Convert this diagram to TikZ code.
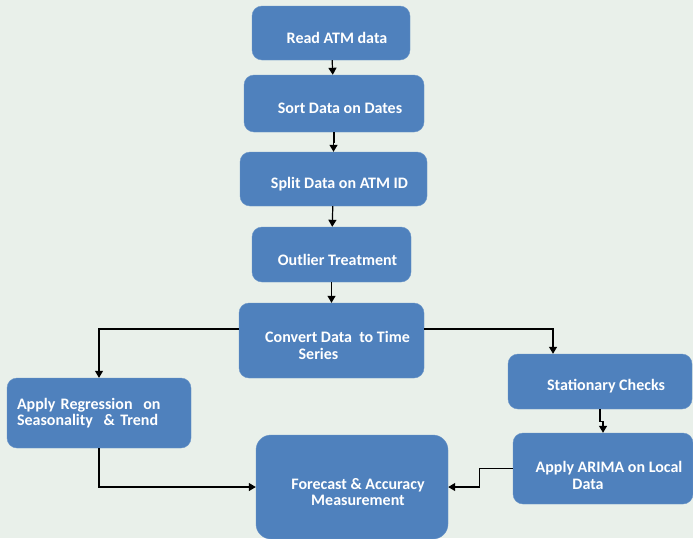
\documentclass[tikz,border=0pt]{standalone}
\usepackage{fontspec}
\setmainfont{Carlito}
\usepackage{tikz}
\usetikzlibrary{arrows.meta}
\usetikzlibrary{scopes}

\definecolor{boxblue}{RGB}{79,129,189}
\definecolor{bggreen}{RGB}{233,240,234}

\begin{document}
\begin{tikzpicture}[x=1pt,y=-1pt]
\fill[bggreen] (0,0) rectangle (693,538);
\useasboundingbox (0,0) rectangle (693,538);

\begin{scope}[every node/.style={rectangle,rounded corners=10pt,fill=boxblue,draw=boxblue!85!white,inner sep=0pt},
      every label/.style={fill=none,draw=none,text=white,font=\fontsize{16}{16.5}\selectfont\bfseries,align=center,yshift=-5pt,xshift=6pt}]
    \node[minimum width=158pt,minimum height=54pt,label=center:{Read ATM data}] (R) at (331,33) {};
    \node[minimum width=180pt,minimum height=57pt,label=center:{Sort Data on Dates}] (S) at (334,103.5) {};
    \node[minimum width=187pt,minimum height=54pt,label=center:{Split Data on ATM ID}] (P) at (333.5,179) {};
    \node[minimum width=159pt,minimum height=55pt,label=center:{Outlier Treatment}] (O) at (331.5,254.5) {};
    \node[minimum width=185pt,minimum height=75pt,label=center:{Convert Data\ \ to Time\\Series\hspace*{38pt}}] (C) at (331.5,340.5) {};
    \node[minimum width=184pt,minimum height=70pt,label={[text width=164pt,align=left,yshift=5pt,xshift=-6pt]center:{Apply Regression\ \ on\\Seasonality\ \ \& Trend}}] (G) at (99,413) {};
    \node[minimum width=184pt,minimum height=55pt,label=center:{Stationary Checks}] (T) at (600,381.5) {};
    \node[minimum width=180pt,minimum height=71pt,label={[yshift=-2pt]center:{Apply ARIMA on Local\\Data\hspace*{42pt}}}] (A) at (603,468.5) {};
    \node[minimum width=192pt,minimum height=104pt,rounded corners=15pt,label=center:{Forecast \& Accuracy\\Measurement}] (F) at (352,487) {};
\end{scope}

\begin{scope}[>={Triangle[black,length=7pt,width=8pt]},
              every path/.style={draw=black,line width=1.2pt}]
    \draw [->] (R) -- (S);
    \draw [->] (S.south) -- ++(0,10) -| (P.north);
    \draw [->] (P) -- (O);
    \draw [->] (O) -- (C);
    \draw [->] ([yshift=11.5pt]C.west) -| (G.north);
    \draw [->] ([yshift=11.5pt]C.east) -| ([xshift=-47pt]T.north);
    \draw [->] (T.south) -- ++(0,12) -| (A.north);
    \draw [->] (G.south) |- (F.west);
    \draw [->] (A.west) -- ++(-33,0) |- (F.east);
\end{scope}
\end{tikzpicture}
\end{document}
